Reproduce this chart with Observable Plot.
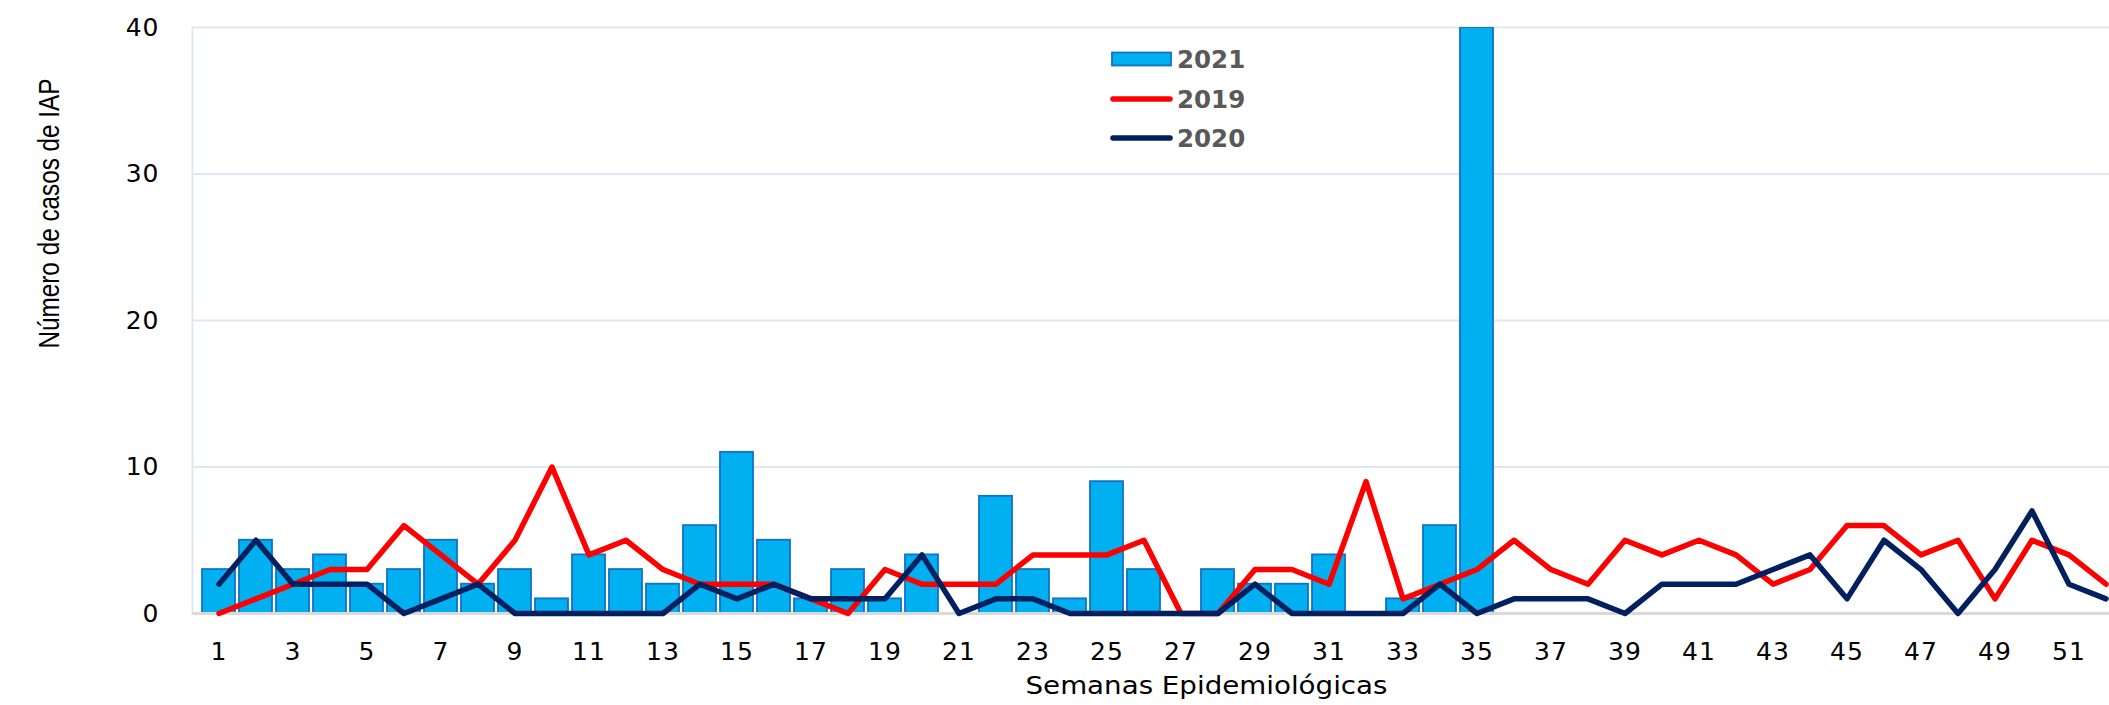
<!DOCTYPE html>
<html>
<head>
<meta charset="utf-8">
<script src="https://cdn.jsdelivr.net/npm/d3@7"></script>
<script src="https://cdn.jsdelivr.net/npm/@observablehq/plot@0.6"></script>
<style>
  html, body { margin: 0; padding: 0; background: #fff; overflow: hidden; }
  #chart { position: relative; width: 2109px; height: 705px; overflow: hidden; }
  #chart svg { max-width: none !important; width: 2132px !important; height: 705px !important; }
</style>
</head>
<body>
<div id="chart"></div>
<script>
// Epidemiological weeks
const weeks = d3.range(1, 53);
// 2021 cases (bars) — data through week 35 (week 35 reaches top of axis)
const cases2021 = [3,5,3,4,2,3,5,2,3,1,4,3,2,6,11,5,1,3,1,4,0,8,3,1,9,3,0,3,2,2,4,0,1,6,40];
// 2019 cases (red line)
const cases2019 = [0,1,2,3,3,6,4,2,5,10,4,5,3,2,2,2,1,0,3,2,2,2,4,4,4,5,0,0,3,3,2,9,1,2,3,5,3,2,5,4,5,4,2,3,6,6,4,5,1,5,4,2];
// 2020 cases (navy line)
const cases2020 = [2,5,2,2,2,0,1,2,0,0,0,0,0,2,1,2,1,1,1,4,0,1,1,0,0,0,0,0,2,0,0,0,0,2,0,1,1,1,0,2,2,2,3,4,1,5,3,0,3,7,2,1];
const yTicks = [0, 10, 20, 30, 40];
const xTicks = weeks.filter(w => w % 2 === 1);
const seriesNames = ["2021", "2019", "2020"];
const yLabel = "Número de casos de IAP";
const xLabel = "Semanas Epidemiológicas";

const bars = cases2021.map((v, i) => ({week: weeks[i], value: v}));
const line2019 = cases2019.map((v, i) => ({week: weeks[i], value: v}));
const line2020 = cases2020.map((v, i) => ({week: weeks[i], value: v}));

const W = 2132, H = 705;
const chart = Plot.plot({
  width: W,
  height: H,
  marginLeft: 192,
  marginRight: 0,
  marginTop: 27,
  marginBottom: 92,
  style: {fontFamily: "'DejaVu Sans', Verdana, sans-serif", fontSize: "25px", color: "#000", background: "#fff", overflow: "visible", maxWidth: "none"},
  x: {type: "band", domain: weeks, paddingInner: 0.115, paddingOuter: 0.0575},
  y: {domain: [0, 40]},
  marks: [
    Plot.ruleY([10, 20, 30, 40], {stroke: "#dde8f2", strokeWidth: 2}),
    Plot.frame({anchor: "left", stroke: "#dde8f2", strokeWidth: 2}),
    Plot.barY(bars, {x: "week", y: "value", fill: "#00b0f0", stroke: "#1272c4", strokeWidth: 1.8, clip: true}),
    Plot.ruleY([0], {stroke: "#d9d9d9", strokeWidth: 3}),
    Plot.line(line2019, {x: "week", y: "value", stroke: "#ff0000", strokeWidth: 5.5, strokeLinejoin: "round", strokeLinecap: "round"}),
    Plot.line(line2020, {x: "week", y: "value", stroke: "#002060", strokeWidth: 5.5, strokeLinejoin: "round", strokeLinecap: "round"}),
    Plot.axisX({ticks: xTicks, tickSize: 0, tickPadding: 29, label: null, fill: "#000", className: "xax"}),
    Plot.axisY({ticks: yTicks, tickSize: 0, tickPadding: 33, label: null, fill: "#000", className: "yax"}),
    Plot.text([xLabel], {frameAnchor: "bottom", text: d => d, dx: 44, dy: 80, fill: "#000", className: "xlab"}),
    Plot.text([yLabel], {frameAnchor: "left", text: d => d, rotate: -90, dx: -143, dy: 28, fill: "#000", className: "ylab"})
  ]
});

document.getElementById("chart").appendChild(chart);

const S = d3.select(chart);
S.selectAll(".xax text, .yax text")
  .style("font-size", "25px")
  .style("font-family", "'DejaVu Sans', Verdana, sans-serif")
  .attr("letter-spacing", "1px");
S.select(".xlab text")
  .style("font-size", "25px")
  .style("font-family", "'DejaVu Sans', Verdana, sans-serif")
  .attr("textLength", 362).attr("lengthAdjust", "spacingAndGlyphs");
S.select(".ylab text")
  .style("font-size", "29px")
  .style("font-family", "'Liberation Sans Narrow', 'Arial Narrow', sans-serif")
  .attr("textLength", 270).attr("lengthAdjust", "spacingAndGlyphs");

// Legend (inside plot area)
const lg = S.append("g")
  .attr("text-anchor", "start")
  .style("font-family", "'DejaVu Sans', Verdana, sans-serif")
  .style("font-weight", "bold")
  .style("font-size", "24.5px")
  .attr("fill", "#595959");
const legendItems = [
  {name: seriesNames[0], type: "bar", color: "#00b0f0", stroke: "#1272c4"},
  {name: seriesNames[1], type: "line", color: "#ff0000"},
  {name: seriesNames[2], type: "line", color: "#002060"}
];
const ly = [59, 99, 138];
legendItems.forEach((it, i) => {
  if (it.type === "bar") {
    lg.append("rect").attr("x", 1112).attr("y", ly[i] - 6.5).attr("width", 59).attr("height", 13)
      .attr("fill", it.color).attr("stroke", it.stroke).attr("stroke-width", 1.8);
  } else {
    lg.append("line").attr("x1", 1113).attr("x2", 1170).attr("y1", ly[i]).attr("y2", ly[i])
      .attr("stroke", it.color).attr("stroke-width", 5.5).attr("stroke-linecap", "round");
  }
  lg.append("text").attr("x", 1177).attr("y", ly[i]).attr("dy", "0.36em").text(it.name);
});
</script>
</body>
</html>
